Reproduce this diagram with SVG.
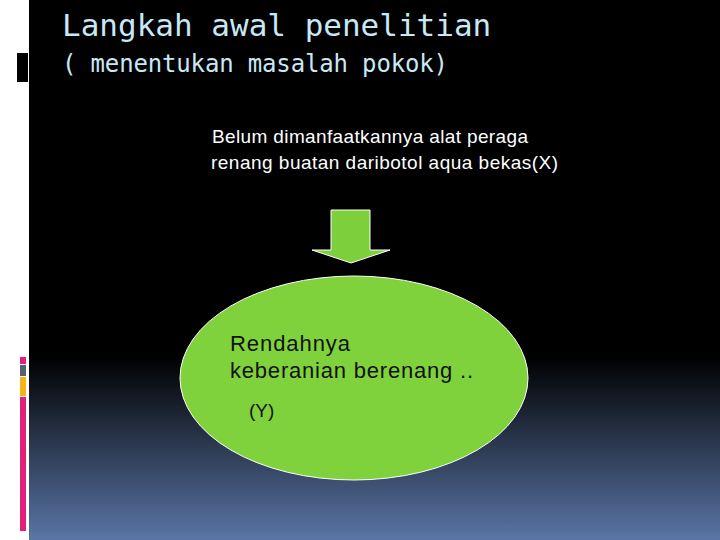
<svg xmlns="http://www.w3.org/2000/svg" width="720" height="540" viewBox="0 0 720 540">
<defs>
<linearGradient id="bg" x1="0" y1="0" x2="0" y2="1">
<stop offset="0" stop-color="#000000"/>
<stop offset="0.66" stop-color="#000000"/>
<stop offset="1" stop-color="#5a75a6"/>
</linearGradient>
<style>
.title{font-family:"DejaVu Sans Mono","Liberation Mono",monospace;fill:#c8e8f5}
.body{font-family:"Liberation Sans",Arial,sans-serif}
</style>
</defs>
<rect x="0" y="0" width="720" height="540" fill="#ffffff"/>
<rect x="29" y="0" width="691" height="540" fill="url(#bg)"/>
<rect x="17" y="53" width="11" height="29" fill="#000000"/>
<rect x="20" y="357" width="6" height="7" fill="#e0207a"/>
<rect x="20" y="365" width="6" height="11" fill="#556070"/>
<rect x="20" y="377" width="6" height="19" fill="#f5b31c"/>
<rect x="20" y="397" width="6" height="134" fill="#e0207a"/>
<text class="title" x="62" y="36" font-size="31">Langkah awal penelitian</text>
<text class="title" x="62" y="72" font-size="24" textLength="386">( menentukan masalah pokok)</text>
<g id="cause">
<text class="body" x="212" y="143" font-size="19" fill="#ffffff" textLength="316">Belum dimanfaatkannya alat peraga</text>
<text class="body" x="211" y="169" font-size="19" fill="#ffffff" textLength="347">renang buatan daribotol aqua bekas(X)</text>
</g>
<g id="connectors">
<path d="M331,210 H370 V250 H390 L351,263 L312,250 H331 Z" fill="#7ecf3c" stroke="#ffffff" stroke-width="1"/>
</g>
<g id="effect">
<ellipse cx="354" cy="378" rx="174" ry="102" fill="#80d23c" stroke="#ffffff" stroke-width="1"/>
<text class="body" x="230" y="351" font-size="22" fill="#111111" textLength="120">Rendahnya</text>
<text class="body" x="230" y="378" font-size="22" fill="#111111" textLength="243">keberanian berenang ..</text>
<text class="body" x="249" y="417" font-size="19" fill="#111111">(Y)</text>
</g>
</svg>
